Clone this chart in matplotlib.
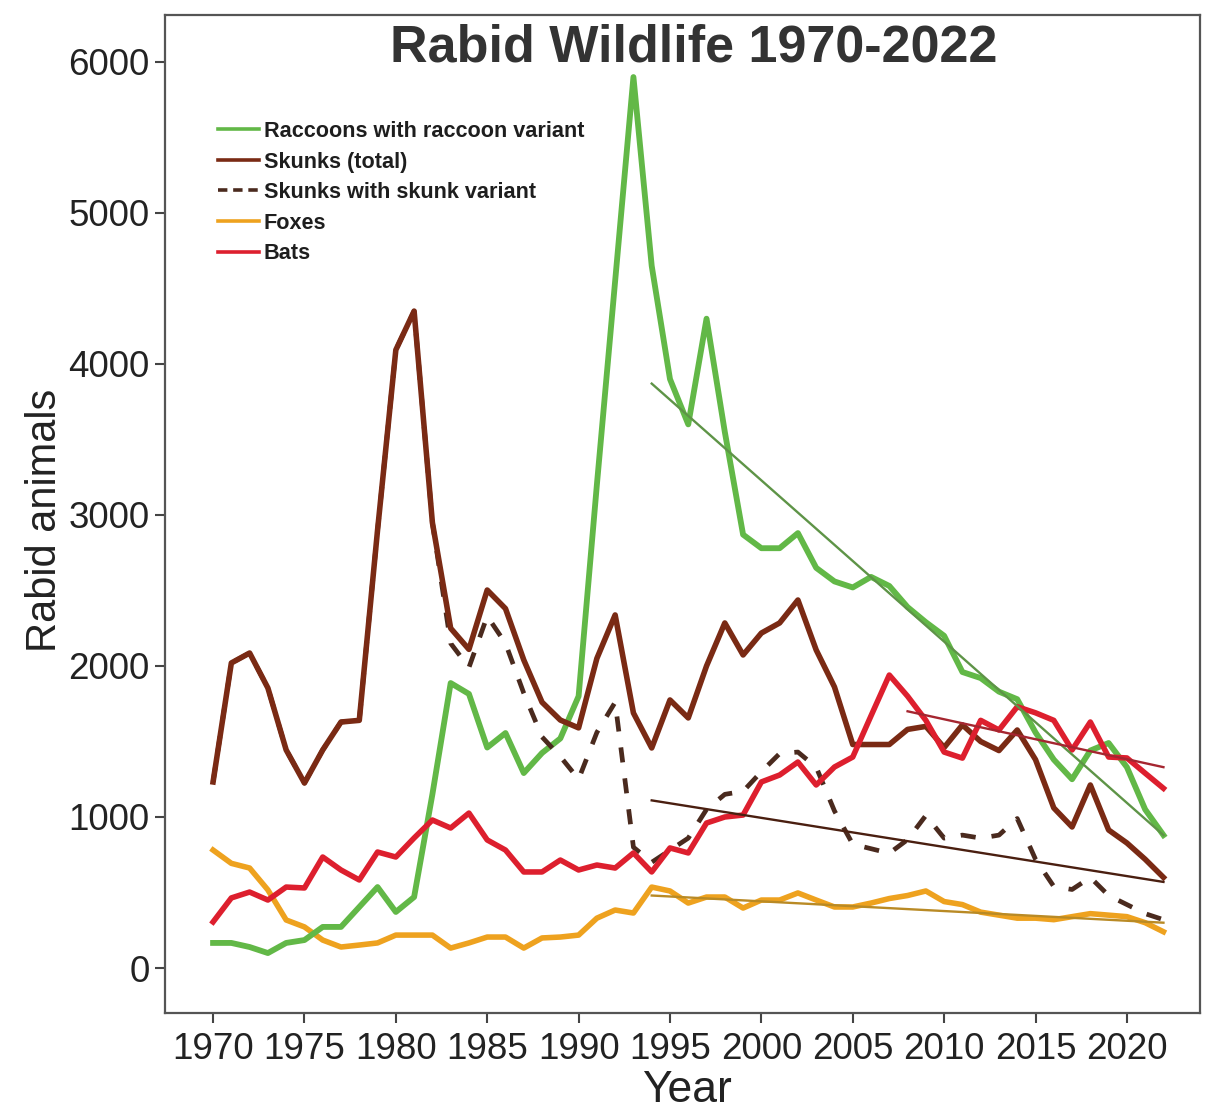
import numpy as np
import matplotlib
matplotlib.use('Agg')
from matplotlib import pyplot as plt
from matplotlib.lines import Line2D

# values (rabid animals per year)
years = list(range(1970, 2023))

raccoons = [166, 166, 139, 99, 166, 185, 272, 272, 404, 536,
            371, 470, 1150, 1887, 1815, 1460, 1556, 1291, 1424, 1520,
            1800, 3200, 4550, 5900, 4650, 3900, 3600, 4300, 3550, 2870,
            2780, 2780, 2880, 2650, 2560, 2520, 2590, 2530, 2390, 2290,
            2200, 1960, 1920, 1830, 1780, 1560, 1380, 1250, 1440, 1490,
            1330, 1050, 880]

skunks_total = [1232, 2020, 2086, 1854, 1444, 1225, 1444, 1629, 1640, 2900,
                4093, 4350, 2950, 2250, 2110, 2503, 2380, 2040, 1760, 1642,
                1590, 2050, 2338, 1689, 1457, 1775, 1656, 2000, 2285, 2073,
                2218, 2285, 2437, 2106, 1861, 1480, 1480, 1480, 1580, 1600,
                1460, 1610, 1500, 1440, 1576, 1380, 1060, 934, 1212, 914,
                828, 720, 600]

skunks_variant = [1232, 2020, 2086, 1854, 1444, 1225, 1444, 1629, 1640, 2900,
                  4093, 4350, 2950, 2150, 1990, 2330, 2150, 1820, 1530, 1400,
                  1250, 1560, 1760, 800, 700, 780, 860, 1050, 1150, 1170,
                  1300, 1420, 1430, 1330, 1040, 820, 790, 760, 850, 1010,
                  860, 880, 860, 880, 990, 720, 540, 520, 600, 480,
                  420, 360, 320]

foxes = [781, 693, 662, 517, 318, 272, 185, 139, 152, 166,
         218, 218, 218, 132, 166, 205, 205, 132, 199, 205,
         218, 330, 384, 364, 536, 510, 430, 470, 470, 397,
         450, 450, 497, 450, 404, 404, 430, 460, 480, 510,
         440, 420, 370, 350, 330, 330, 320, 340, 360, 350,
         340, 300, 240]

bats = [305, 464, 503, 450, 536, 530, 735, 649, 583, 768,
        735, 861, 980, 927, 1026, 848, 781, 636, 636, 715,
        649, 682, 662, 762, 636, 795, 762, 960, 1000, 1013,
        1232, 1278, 1364, 1212, 1331, 1397, 1670, 1940, 1800, 1640,
        1430, 1390, 1640, 1576, 1730, 1690, 1640, 1444, 1629, 1397,
        1391, 1290, 1190]

# trend lines as drawn in the reference: (start year, end year), (start value, end value)
raccoon_trend_years, raccoon_trend = [1994, 2022], [3870, 880]
skunk_trend_years, skunk_trend = [1994, 2022], [1110, 570]
fox_trend_years, fox_trend = [1994, 2022], [480, 300]
bat_trend_years, bat_trend = [2008, 2022], [1700, 1330]

labels = ['Raccoons with raccoon variant', 'Skunks (total)',
          'Skunks with skunk variant', 'Foxes', 'Bats']

GREEN = '#62b847'
BROWN = '#7a2a14'
DARK = '#4a2a1e'
ORANGE = '#eea21f'
RED = '#dd1f2e'

W, H = 1214, 1112
fig = plt.figure(figsize=(W / 100, H / 100), dpi=100)
ax = fig.add_axes([165 / W, 1 - 1013 / H, (1200 - 165) / W, (1013 - 15) / H])

ax.plot(years, foxes, color=ORANGE, lw=4.0, zorder=2, solid_joinstyle='round')
ax.plot(years, raccoons, color=GREEN, lw=4.2, zorder=3, solid_joinstyle='round')
ax.plot(years, skunks_variant, color=DARK, lw=3.4, dashes=(3.2, 3.4), zorder=4)
ax.plot(years, skunks_total, color=BROWN, lw=4.0, zorder=5, solid_joinstyle='round')
ax.plot(years, bats, color=RED, lw=4.0, zorder=6, solid_joinstyle='round')

ax.plot(raccoon_trend_years, raccoon_trend, color='#5e9447', lw=1.7, zorder=7)
ax.plot(skunk_trend_years, skunk_trend, color='#4a1f10', lw=1.7, zorder=7)
ax.plot(fox_trend_years, fox_trend, color='#b98a25', lw=1.7, zorder=7)
ax.plot(bat_trend_years, bat_trend, color='#a52630', lw=1.7, zorder=7)

ax.set_xlim(1967.37, 2024.0)
ax.set_ylim(-298, 6311)
ax.set_xticks(np.arange(1970, 2021, 5))
ax.set_yticks(np.arange(0, 6001, 1000))

sans = ['Liberation Sans', 'DejaVu Sans']
for lab in ax.get_xticklabels():
	lab.set_family(sans)
	lab.set_fontsize(26.5)
for lab in ax.get_yticklabels():
	lab.set_family(sans)
	lab.set_fontsize(26.5)
ax.tick_params(axis='both', direction='out', length=7, width=1.5, colors='#444',
			   labelcolor='#222')
ax.tick_params(axis='x', pad=7)
ax.tick_params(axis='y', pad=4)

for sp in ax.spines.values():
	sp.set_color('#555')
	sp.set_linewidth(1.6)

ax.set_xlabel('Year', family=sans, fontsize=32, color='#222')
ax.xaxis.set_label_coords((687 - 165) / 1035, (1013 - 1090) / 998)
ax.xaxis.label.set_va('center')
ax.set_ylabel('Rabid animals', family=sans, fontsize=30, color='#222')
ax.yaxis.set_label_coords((45 - 165) / 1035, (1013 - 520) / 998)
ax.yaxis.label.set_va('center')

fig.text(694 / W, 1 - 62 / H, 'Rabid Wildlife 1970-2022', ha='center', va='baseline',
		 fontsize=37.5, fontweight='bold', color='#333', family=sans)

handles = [Line2D([], [], color=GREEN, lw=2.6),
		   Line2D([], [], color=BROWN, lw=2.6),
		   Line2D([], [], color=DARK, lw=2.6, dashes=(2.6, 1.6)),
		   Line2D([], [], color=ORANGE, lw=2.6),
		   Line2D([], [], color=RED, lw=2.6)]
leg = fig.legend(handles, labels, loc='upper left', bbox_to_anchor=(218 / W, 1 - 121 / H),
				 frameon=False, borderpad=0, borderaxespad=0, handlelength=1.9,
				 handletextpad=0.22, labelspacing=0.44,
				 prop={'family': sans, 'weight': 'bold', 'size': 15.6})
for t in leg.get_texts():
	t.set_color('#1e1e1e')

fig.savefig('out.png', dpi=100)
